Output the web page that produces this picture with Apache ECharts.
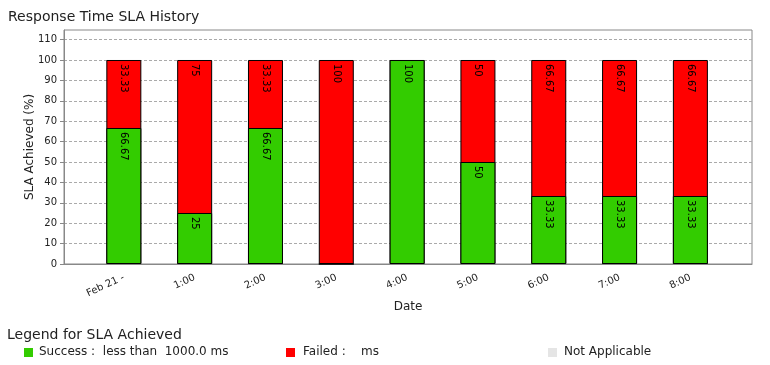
<!DOCTYPE html>
<html>
<head>
<meta charset="utf-8">
<script src="https://cdn.jsdelivr.net/npm/echarts@6/dist/echarts.min.js"></script>
<style>html,body{margin:0;padding:0;background:#fff}#c{width:770px;height:365px}</style>
</head>
<body>
<div id="c"></div>
<script>
const categories = ['Feb 21 -', '1:00', '2:00', '3:00', '4:00', '5:00', '6:00', '7:00', '8:00'];
const successValues = [66.67, 25, 66.67, 0, 100, 50, 33.33, 33.33, 33.33];
const failedValues = [33.33, 75, 33.33, 100, 0, 50, 66.67, 66.67, 66.67];
const yTickValues = [0, 10, 20, 30, 40, 50, 60, 70, 80, 90, 100, 110];
const legendItems = ['Success :  less than  1000.0 ms', 'Failed :    ms', 'Not Applicable'];

const GREEN = '#33cc00', RED = '#ff0000', GRAY = '#e5e5e5';
const FONT = 'DejaVu Sans';
const chart = echarts.init(document.getElementById('c'), null, {renderer: 'canvas'});

function barLabel(values) {
  return {
    show: true,
    position: 'insideTop',
    distance: 3,
    rotate: -90,
    align: 'left',
    verticalAlign: 'middle',
    offset: [1, 0],
    fontFamily: FONT,
    fontSize: 10,
    color: '#000',
    formatter: p => (values[p.dataIndex] ? String(values[p.dataIndex]) : '')
  };
}

// Failed segment sits on top of the success segment: draw the full stack
// (success + failed) in red, then overlay the success part in green.
const stackTop = successValues.map((v, i) => v + failedValues[i]);

chart.setOption({
  animation: false,
  title: {
    text: 'Response Time SLA History',
    left: 3, top: 5,
    textStyle: {fontFamily: FONT, fontSize: 14, fontWeight: 'normal', color: '#222'}
  },
  grid: {left: 64, right: 18, top: 30, bottom: 101, show: true, borderColor: '#888', borderWidth: 1, backgroundColor: 'transparent'},
  xAxis: {
    type: 'value',
    min: -0.845, max: 8.87,
    name: 'Date', nameLocation: 'middle', nameGap: 37, nameMoveOverlap: false,
    nameTextStyle: {fontFamily: FONT, fontSize: 12, color: '#222'},
    axisLine: {show: true, onZero: false, lineStyle: {color: '#888'}},
    axisTick: {show: false},
    splitLine: {show: false},
    axisLabel: {
      customValues: categories.map((c, i) => i),
      formatter: v => categories[Math.round(v)] || '',
      rotate: 25, margin: 13,
      fontFamily: FONT, fontSize: 10, color: '#222'
    }
  },
  yAxis: {
    type: 'value',
    min: 0, max: 114.7, interval: 10,
    name: 'SLA Achieved (%)', nameLocation: 'middle', nameGap: 28, nameMoveOverlap: false,
    nameTextStyle: {fontFamily: FONT, fontSize: 12, color: '#222'},
    axisLine: {show: true, onZero: false, lineStyle: {color: '#888'}},
    axisTick: {show: true, length: 4, lineStyle: {color: '#888'}, customValues: yTickValues},
    splitLine: {show: true, lineStyle: {color: '#aaa', type: [3, 2], width: 1}},
    axisLabel: {
      customValues: yTickValues,
      margin: 7,
      fontFamily: FONT, fontSize: 10, color: '#222'
    }
  },
  series: [
    {
      name: 'Failed', type: 'bar', barWidth: 35, barGap: '-100%',
      data: stackTop.map((v, i) => [i, v]),
      itemStyle: {color: RED, borderColor: '#000', borderWidth: 1},
      label: barLabel(failedValues)
    },
    {
      name: 'Success', type: 'bar', barWidth: 35, barGap: '-100%',
      data: successValues.map((v, i) => [i, v]),
      itemStyle: {color: GREEN, borderColor: '#000', borderWidth: 1},
      label: barLabel(successValues)
    }
  ],
  graphic: [
    {type: 'text', left: 7, top: 328, style: {text: 'Legend for SLA Achieved', fontFamily: FONT, fontSize: 14, fill: '#222'}},
    {type: 'rect', shape: {x: 24, y: 348, width: 9, height: 9}, style: {fill: GREEN}},
    {type: 'text', left: 39, top: 346, style: {text: legendItems[0], fontFamily: FONT, fontSize: 12, fill: '#222'}},
    {type: 'rect', shape: {x: 286, y: 348, width: 9, height: 9}, style: {fill: RED}},
    {type: 'text', left: 303, top: 346, style: {text: legendItems[1], fontFamily: FONT, fontSize: 12, fill: '#222'}},
    {type: 'rect', shape: {x: 548, y: 348, width: 9, height: 9}, style: {fill: GRAY}},
    {type: 'text', left: 564, top: 346, style: {text: legendItems[2], fontFamily: FONT, fontSize: 12, fill: '#222'}}
  ]
});
</script>
</body>
</html>
